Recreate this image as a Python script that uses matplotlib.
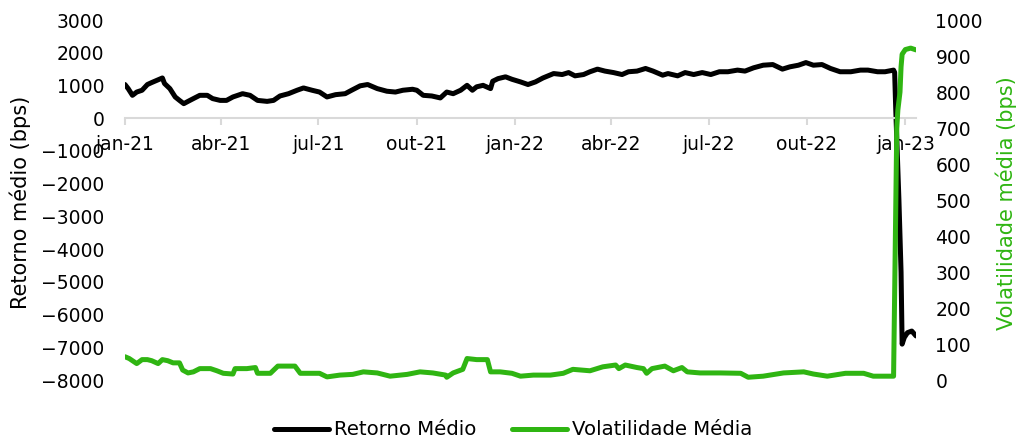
import pandas as pd
import matplotlib
matplotlib.use('Agg')
import matplotlib.pyplot as plt

plt.rcParams['font.family'] = ['DejaVu Sans']

# Retorno médio (bps) - eixo esquerdo
ret_datas = ['2021-01-01', '2021-01-04', '2021-01-08', '2021-01-12', '2021-01-17', '2021-01-22',
             '2021-01-26', '2021-01-31', '2021-02-05', '2021-02-07', '2021-02-12', '2021-02-17',
             '2021-02-21', '2021-02-25', '2021-03-01', '2021-03-06', '2021-03-12', '2021-03-19',
             '2021-03-24', '2021-03-31', '2021-04-06', '2021-04-12', '2021-04-21', '2021-04-28',
             '2021-05-05', '2021-05-14', '2021-05-20', '2021-05-26', '2021-06-03', '2021-06-11',
             '2021-06-17', '2021-06-25', '2021-07-02', '2021-07-09', '2021-07-17', '2021-07-26',
             '2021-08-01', '2021-08-09', '2021-08-16', '2021-08-25', '2021-09-03', '2021-09-11',
             '2021-09-18', '2021-09-27', '2021-10-01', '2021-10-07', '2021-10-15', '2021-10-23',
             '2021-10-29', '2021-11-04', '2021-11-11', '2021-11-17', '2021-11-22', '2021-11-26',
             '2021-12-02', '2021-12-09', '2021-12-11', '2021-12-16', '2021-12-23', '2021-12-29',
             '2022-01-06', '2022-01-13', '2022-01-20', '2022-01-27', '2022-02-06', '2022-02-14',
             '2022-02-20', '2022-02-26', '2022-03-06', '2022-03-12', '2022-03-19', '2022-03-26',
             '2022-04-03', '2022-04-11', '2022-04-17', '2022-04-25', '2022-05-03', '2022-05-10',
             '2022-05-19', '2022-05-24', '2022-06-02', '2022-06-09', '2022-06-17', '2022-06-25',
             '2022-07-03', '2022-07-11', '2022-07-19', '2022-07-28', '2022-08-04', '2022-08-12',
             '2022-08-21', '2022-08-30', '2022-09-08', '2022-09-15', '2022-09-23', '2022-09-30',
             '2022-10-07', '2022-10-15', '2022-10-23', '2022-11-01', '2022-11-11', '2022-11-20',
             '2022-11-27', '2022-12-06', '2022-12-13', '2022-12-21', '2022-12-22', '2022-12-23',
             '2022-12-26', '2022-12-28', '2022-12-29', '2022-12-31', '2023-01-03', '2023-01-07',
             '2023-01-11']
ret_valores = [1030, 905, 700, 800, 855, 1030,
               1090, 1160, 1230, 1060, 905, 650,
               545, 445, 515, 600, 700, 700,
               600, 545, 545, 650, 750, 700,
               545, 515, 545, 680, 750, 855,
               925, 855, 800, 650, 720, 750,
               855, 990, 1030, 905, 825, 800,
               855, 885, 855, 700, 680, 620,
               800, 750, 855, 1005, 855, 960,
               1005, 905, 1130, 1210, 1265, 1190,
               1110, 1030, 1110, 1230, 1365, 1335,
               1395, 1295, 1335, 1420, 1500, 1440,
               1395, 1335, 1420, 1440, 1520, 1440,
               1315, 1365, 1295, 1395, 1335, 1395,
               1335, 1420, 1420, 1470, 1440, 1540,
               1620, 1640, 1500, 1570, 1620, 1700,
               1620, 1640, 1520, 1420, 1420, 1470,
               1470, 1420, 1420, 1470, 1400, 300,
               -2500, -4700, -6900, -6700, -6550, -6500,
               -6650]

# Volatilidade média (bps) - eixo direito
vol_datas = ['2021-01-01', '2021-01-05', '2021-01-12', '2021-01-17', '2021-01-22', '2021-01-26',
             '2021-02-01', '2021-02-05', '2021-02-10', '2021-02-15', '2021-02-21', '2021-02-24',
             '2021-03-01', '2021-03-06', '2021-03-12', '2021-03-22', '2021-03-28', '2021-04-03',
             '2021-04-12', '2021-04-14', '2021-04-25', '2021-05-03', '2021-05-05', '2021-05-17',
             '2021-05-24', '2021-06-09', '2021-06-14', '2021-06-20', '2021-07-02', '2021-07-09',
             '2021-07-21', '2021-08-02', '2021-08-12', '2021-08-25', '2021-09-06', '2021-09-22',
             '2021-10-04', '2021-10-16', '2021-10-28', '2021-10-29', '2021-11-04', '2021-11-13',
             '2021-11-17', '2021-11-26', '2021-12-06', '2021-12-09', '2021-12-18', '2021-12-29',
             '2022-01-06', '2022-01-18', '2022-02-03', '2022-02-15', '2022-02-24', '2022-03-12',
             '2022-03-24', '2022-04-05', '2022-04-08', '2022-04-14', '2022-04-25', '2022-05-01',
             '2022-05-04', '2022-05-09', '2022-05-21', '2022-05-29', '2022-06-06', '2022-06-11',
             '2022-06-23', '2022-07-12', '2022-07-31', '2022-08-07', '2022-08-21', '2022-09-09',
             '2022-09-28', '2022-10-07', '2022-10-20', '2022-11-06', '2022-11-23', '2022-12-02',
             '2022-12-21', '2022-12-24', '2022-12-25', '2022-12-27', '2022-12-28', '2022-12-29',
             '2023-01-01', '2023-01-06', '2023-01-11']
vol_valores = [65, 60, 46, 57, 57, 54,
               46, 57, 54, 48, 48, 28,
               20, 23, 32, 32, 26, 19,
               17, 32, 32, 35, 19, 19,
               39, 39, 19, 19, 19, 9,
               14, 16, 23, 20, 11, 16,
               23, 20, 14, 8, 20, 30,
               60, 57, 57, 23, 23, 19,
               11, 14, 14, 19, 30, 26,
               37, 42, 32, 42, 35, 32,
               19, 32, 39, 26, 35, 23,
               20, 20, 19, 8, 11, 20,
               23, 17, 11, 19, 19, 11,
               11, 700, 750, 800, 870, 905,
               918, 922, 917]

tick_datas = ['2021-01-01', '2021-04-01', '2021-07-01', '2021-10-01', '2022-01-01',
              '2022-04-01', '2022-07-01', '2022-10-01', '2023-01-01']
tick_rotulos = ['jan-21', 'abr-21', 'jul-21', 'out-21', 'jan-22',
                'abr-22', 'jul-22', 'out-22', 'jan-23']

verde = '#2FB512'

fig = plt.figure(figsize=(10.16, 4.41), dpi=100)
ax = fig.add_axes([0.123, 0.138, 0.7786, 0.8166])
ax2 = ax.twinx()

l1, = ax.plot(pd.to_datetime(ret_datas), ret_valores, color='black', lw=3.6,
              solid_joinstyle='round', solid_capstyle='round', label='Retorno Médio')
l2, = ax2.plot(pd.to_datetime(vol_datas), vol_valores, color=verde, lw=3.6,
               solid_joinstyle='round', solid_capstyle='round', label='Volatilidade Média')

ax.set_xlim(pd.Timestamp('2021-01-01'), pd.Timestamp('2023-01-11'))
ax.set_ylim(-8000, 3000)
ax.set_yticks(range(-8000, 3001, 1000))
ax2.set_ylim(0, 1000)
ax2.set_yticks(range(0, 1001, 100))

ax.set_xticks(pd.to_datetime(tick_datas))
ax.set_xticklabels(tick_rotulos)

for s in ['top', 'left', 'right']:
    ax.spines[s].set_visible(False)
    ax2.spines[s].set_visible(False)
ax2.spines['bottom'].set_visible(False)
ax.spines['bottom'].set_position(('data', 0))
ax.spines['bottom'].set_color('#D9D9D9')
ax.spines['bottom'].set_linewidth(1.5)

ax.tick_params(axis='x', colors='#D9D9D9', length=5, width=1.5, pad=7, labelsize=13.5,
               labelcolor='black')
ax.tick_params(axis='y', length=0, pad=15, labelsize=13.5)
ax2.tick_params(axis='y', length=0, pad=14, labelsize=13.5)

fig.text(0.02, 0.54, 'Retorno médio (bps)', rotation=90, ha='center', va='center', fontsize=15)
fig.text(0.99, 0.54, 'Volatilidade média (bps)', rotation=90, ha='center', va='center',
         fontsize=15, color=verde)

fig.legend([l1, l2], ['Retorno Médio', 'Volatilidade Média'], loc='center',
           bbox_to_anchor=(0.505, 0.025), ncol=2, frameon=False, fontsize=14.2,
           handlelength=2.8, handletextpad=0.25, columnspacing=1.8)

plt.savefig('out.png', dpi=100)
